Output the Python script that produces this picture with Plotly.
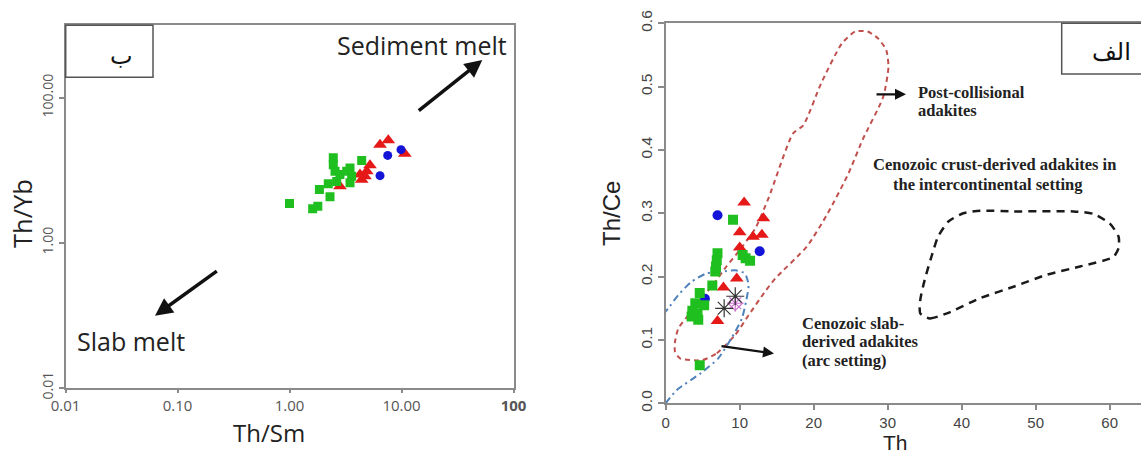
import plotly.graph_objects as go

W, H = 1141, 454

# ---- Panel "ب": Th/Sm vs Th/Yb (log-log) ----
sm_red_x = [6.43, 7.62, 10.7, 5.23, 4.9, 4.72, 4.26, 4.41, 2.82]
sm_red_y = [22.5, 25.8, 16.8, 11.7, 9.66, 8.24, 8.7, 7.4, 6.0]
sm_blue_x = [9.9, 7.53, 6.43]
sm_blue_y = [19.2, 16.0, 8.4]
sm_green_x = [1.0, 1.61, 1.79, 1.85, 2.30, 2.22, 2.46, 2.46, 2.55, 2.82, 3.24, 3.47, 3.59, 3.47, 4.41, 2.64]
sm_green_y = [3.47, 2.94, 3.19, 5.41, 4.29, 6.48, 14.8, 11.9, 9.66, 8.7, 9.66, 10.7, 8.24, 6.69, 13.6, 7.0]

sm_xticks = [0.01, 0.1, 1, 10, 100]
sm_xtick_text = ["0.01", "0.10", "1.00", "10.00", "<b>100</b>"]
sm_yticks = [0.01, 1, 100]
sm_ytick_text = ["0.01", "1.00", "100.00"]

# ---- Panel "الف": Th vs Th/Ce ----
ce_red_x = [10.6, 13.2, 10.0, 11.8, 13.0, 10.0, 9.6, 7.8, 7.0]
ce_red_y = [0.317, 0.292, 0.270, 0.263, 0.266, 0.246, 0.197, 0.183, 0.130]
ce_blue_x = [7.0, 12.7, 5.3]
ce_blue_y = [0.297, 0.240, 0.165]
ce_green_x = [9.1, 7.0, 6.9, 6.8, 6.7, 10.4, 10.8, 11.4, 6.3, 4.6, 5.2, 4.0, 3.6, 4.3, 3.5, 4.4, 4.6]
ce_green_y = [0.290, 0.237, 0.226, 0.216, 0.208, 0.234, 0.229, 0.225, 0.186, 0.174, 0.155,
              0.158, 0.146, 0.142, 0.137, 0.132, 0.060]
ce_star_x = [7.9, 9.4]
ce_star_y = [0.150, 0.169]
ce_violet_x = [9.4]
ce_violet_y = [0.158]

# field outlines (Th, Th/Ce)
post_coll_x = [4.9, 6.9, 9.4, 11.2, 13.4, 14.8, 19.1, 21.9, 24.7, 26.6, 29.4, 30.1, 29.8, 28.7,
               27.3, 25.6, 23.8, 21.0, 18.6, 17.2, 13.9, 12.1, 9.8, 8.2, 6.7, 4.9, 3.05, 1.7,
               1.26, 1.26, 1.93, 4.9]
post_coll_y = [0.068, 0.079, 0.108, 0.139, 0.176, 0.197, 0.248, 0.300, 0.363, 0.416, 0.484, 0.531,
               0.558, 0.576, 0.587, 0.587, 0.568, 0.505, 0.439, 0.426, 0.324, 0.276, 0.239, 0.216,
               0.192, 0.166, 0.139, 0.118, 0.097, 0.081, 0.071, 0.068]
slab_x = [0.0, 1.5, 4.8, 7.1, 8.9, 10.3, 10.9, 11.2, 10.7, 9.4, 7.6, 5.5, 3.5, 1.7, 0.35, -0.5]
slab_y = [0.0, 0.021, 0.048, 0.071, 0.103, 0.134, 0.163, 0.187, 0.205, 0.210, 0.208, 0.205,
          0.192, 0.171, 0.150, 0.138]
crust_x = [34.4, 35.7, 38.0, 42.5, 47.0, 51.5, 56.0, 60.5, 61.2, 61.2, 60.0, 57.8, 55.1, 47.0,
           42.5, 40.2, 38.2, 36.8, 35.9, 35.0, 34.4, 34.4]
crust_y = [0.142, 0.134, 0.142, 0.166, 0.184, 0.203, 0.216, 0.231, 0.245, 0.263, 0.284, 0.299,
           0.303, 0.303, 0.304, 0.300, 0.287, 0.263, 0.231, 0.195, 0.163, 0.142]

ce_xticks = [0, 10, 20, 30, 40, 50, 60]
ce_yticks = [0.0, 0.1, 0.2, 0.3, 0.4, 0.5, 0.6]

GREEN, RED, BLUE = "#1fbf1f", "#e61919", "#1414d8"
AXIS = "#8a8a8a"


def px(x):
    return x / W


def py(y):
    return 1 - y / H


fig = go.Figure()

# left panel markers
fig.add_trace(go.Scatter(x=sm_red_x, y=sm_red_y, mode="markers", xaxis="x", yaxis="y",
                         marker=dict(symbol="triangle-up", size=12, color=RED)))
fig.add_trace(go.Scatter(x=sm_blue_x, y=sm_blue_y, mode="markers", xaxis="x", yaxis="y",
                         marker=dict(symbol="circle", size=9, color=BLUE)))
fig.add_trace(go.Scatter(x=sm_green_x, y=sm_green_y, mode="markers", xaxis="x", yaxis="y",
                         marker=dict(symbol="square", size=9, color=GREEN)))

# right panel outlines
fig.add_trace(go.Scatter(x=post_coll_x, y=post_coll_y, mode="lines", xaxis="x2", yaxis="y2",
                         line=dict(color="#c0504d", width=2, dash="5px,4px", shape="spline", smoothing=0.6)))
fig.add_trace(go.Scatter(x=slab_x, y=slab_y, mode="lines", xaxis="x2", yaxis="y2",
                         line=dict(color="#4f81bd", width=2, dash="7px,4px,2px,4px", shape="spline", smoothing=0.6)))
fig.add_trace(go.Scatter(x=crust_x, y=crust_y, mode="lines", xaxis="x2", yaxis="y2",
                         line=dict(color="#1a1a1a", width=2.5, dash="8px,6px", shape="spline", smoothing=0.6)))

# right panel markers
fig.add_trace(go.Scatter(x=ce_red_x, y=ce_red_y, mode="markers", xaxis="x2", yaxis="y2",
                         marker=dict(symbol="triangle-up", size=12, color=RED)))
fig.add_trace(go.Scatter(x=ce_blue_x, y=ce_blue_y, mode="markers", xaxis="x2", yaxis="y2",
                         marker=dict(symbol="circle", size=10, color=BLUE)))
fig.add_trace(go.Scatter(x=ce_green_x, y=ce_green_y, mode="markers", xaxis="x2", yaxis="y2",
                         marker=dict(symbol="square", size=10, color=GREEN)))
fig.add_trace(go.Scatter(x=ce_violet_x, y=ce_violet_y, mode="markers", xaxis="x2", yaxis="y2",
                         marker=dict(symbol="diamond-open", size=11, color="#cc77cc",
                                     line=dict(width=1.2, color="#cc77cc"))))
fig.add_trace(go.Scatter(x=ce_violet_x, y=ce_violet_y, mode="markers", xaxis="x2", yaxis="y2",
                         marker=dict(symbol="asterisk-open", size=14, color="#cc77cc",
                                     line=dict(width=1.2, color="#cc77cc"))))
fig.add_trace(go.Scatter(x=ce_star_x, y=ce_star_y, mode="markers", xaxis="x2", yaxis="y2",
                         marker=dict(symbol="asterisk-open", size=15, color="#333333",
                                     line=dict(width=1.2, color="#333333"))))

left_tick_font = dict(family="Open Sans", size=15, color="#555555")
right_tick_font = dict(family="Liberation Sans", size=15, color="#444444")

fig.update_layout(
    width=W, height=H,
    margin=dict(l=0, r=0, t=0, b=0, autoexpand=False),
    paper_bgcolor="white", plot_bgcolor="white",
    showlegend=False,
    xaxis=dict(type="log", range=[-2, 2], domain=[px(65.5), px(513.5)], anchor="y",
               automargin=False,
               showgrid=False, zeroline=False, showline=True, linecolor=AXIS, linewidth=1.5,
               mirror=True, ticks="outside", ticklen=4, tickcolor=AXIS, tickwidth=1.5,
               tickvals=sm_xticks, ticktext=sm_xtick_text, tickfont=left_tick_font),
    yaxis=dict(type="log", range=[-2, 3], domain=[py(387.7), py(25.2)], anchor="x",
               automargin=False,
               showgrid=False, zeroline=False, showline=True, linecolor=AXIS, linewidth=1.5,
               mirror=True, ticks="outside", ticklen=5, tickcolor=AXIS, tickwidth=1.5,
               tickvals=sm_yticks, ticktext=sm_ytick_text, tickangle=-90,
               tickfont=dict(family="Open Sans", size=14, color="#555555")),
    xaxis2=dict(range=[0, (W - 665.7) / 7.40], domain=[px(665.7), 1.0], anchor="y2",
                automargin=False,
                showgrid=False, zeroline=False, showline=True, linecolor=AXIS, linewidth=2,
                mirror=True, ticks="outside", ticklen=5, tickcolor=AXIS, tickwidth=1.5,
                tickvals=ce_xticks, tickfont=right_tick_font),
    yaxis2=dict(range=[0, 0.6], domain=[py(403.3), py(23.3)], anchor="x2",
                automargin=False,
                showgrid=False, zeroline=False, showline=True, linecolor=AXIS, linewidth=2,
                ticks="outside", ticklen=6, tickcolor=AXIS, tickwidth=1.5,
                tickvals=ce_yticks, tickformat=".1f", tickangle=-90,
                tickfont=dict(family="Liberation Sans", size=15.5, color="#444444")),
)

# label boxes
fig.add_shape(type="rect", xref="paper", yref="paper",
              x0=px(65.7), x1=px(153), y0=py(77.3), y1=py(25.3),
              line=dict(color="#555555", width=1.5), fillcolor="white")
fig.add_shape(type="rect", xref="paper", yref="paper",
              x0=px(1061.7), x1=px(1150), y0=py(74), y1=py(23.3),
              line=dict(color="#555555", width=1.5), fillcolor="white")


def label(text, x, y, size, family="Open Sans", color="#222222", angle=0, xanchor="center"):
    fig.add_annotation(text=text, x=px(x), y=py(y), xref="paper", yref="paper",
                       showarrow=False, textangle=angle, xanchor=xanchor, yanchor="middle",
                       borderpad=0, font=dict(family=family, size=size, color=color))


def arrow(x_tail, y_tail, x_head, y_head, width):
    fig.add_annotation(text="", x=px(x_head), y=py(y_head), xref="paper", yref="paper",
                       ax=x_tail - x_head, ay=y_tail - y_head, axref="pixel", ayref="pixel",
                       showarrow=True, arrowhead=2, arrowsize=1, arrowwidth=width,
                       arrowcolor="#111111")


# left panel texts
label("ب", 121.7, 56, 24, family="DejaVu Sans", color="#111111")
label("Sediment melt", 421.5, 45, 25)
label("Slab melt", 131, 340.7, 25)
label("Th/Yb", 22, 214, 25.5, angle=-90)
label("Th/Sm", 268.6, 432, 24)
arrow(417.3, 111.7, 482.3, 60, 3.5)
arrow(218.3, 270, 155, 315.7, 3.5)

# right panel texts
serif = "Liberation Serif"
label("الف", 1111.7, 52, 24, family="DejaVu Sans", color="#111111")
label("Th/Ce", 611, 214, 24, family="Liberation Sans", angle=-90)
label("Th", 895, 442.5, 21, family="Liberation Sans")
label("<b>Post-collisional</b>", 916.7, 92, 16.5, family=serif, xanchor="left")
label("<b>adakites</b>", 916.7, 110.5, 16.5, family=serif, xanchor="left")
label("<b>Cenozoic crust-derived adakites in</b>", 994.2, 164.3, 16.5, family=serif)
label("<b>the intercontinental setting</b>", 988.3, 185, 16.5, family=serif)
label("<b>Cenozoic slab-</b>", 800.8, 323.3, 16.5, family=serif, xanchor="left")
label("<b>derived adakites</b>", 800.8, 341.8, 16.5, family=serif, xanchor="left")
label("<b>(arc setting)</b>", 800.8, 360.3, 16.5, family=serif, xanchor="left")
arrow(875, 94.3, 906, 94.3, 2.2)
arrow(720, 346, 774, 353.5, 2.2)

fig.write_html("out.html")
